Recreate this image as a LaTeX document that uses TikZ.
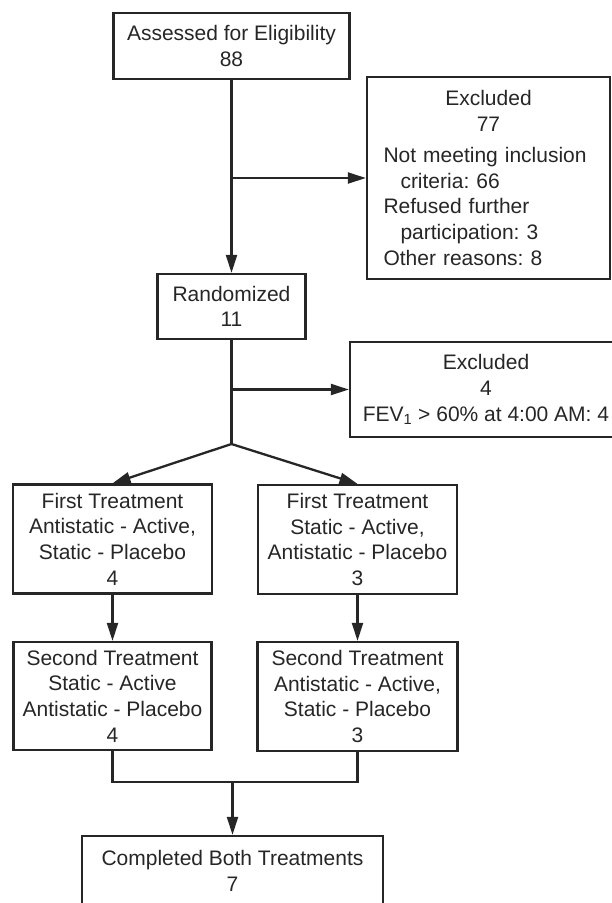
\documentclass[tikz,border=0pt]{standalone}
\usepackage{fontspec}
\setmainfont{Liberation Sans}
\usepackage{tikz}
\usetikzlibrary{arrows.meta, positioning, calc}
\tikzset{
  flowbox/.style={
    rectangle, draw=black!85, line width=2.3pt,
    text centered, align=center, text=black!85,
    font=\fontsize{21}{25.7}\selectfont\frenchspacing,
    inner sep=0pt
  },
  flowarrow/.style={-{Triangle[length=18pt,width=11pt]}, line width=2.3pt, color=black!85},
  flowline/.style={line width=2.3pt, color=black!85},
}

\begin{document}
\begin{tikzpicture}[x=1pt, y=-1pt]
      \useasboundingbox (0,0) rectangle (612,903);
      \node[flowbox, minimum width=236pt, minimum height=66pt](assess) at (231.5,46)
            {Assessed for Eligibility\\88};
      \node[flowbox, minimum width=243pt, minimum height=202pt, align=left,
            text width=210pt](excl1) at (488.5,178)
            {{\centering Excluded\\77\par}\vspace{5pt}\raggedright
             Not meeting inclusion\\\hspace*{17pt}criteria: 66\\Refused further\\
             \hspace*{17pt}participation: 3\\Other reasons: 8};
      \node[flowbox, minimum width=148pt, minimum height=65pt](rand) at (231.5,306.5)
            {Randomized\\11};
      \node[flowbox, minimum width=272pt, minimum height=95pt](excl2) at (486,389.5)
            {Excluded\\4\\FEV\textsubscript{1} > 60\% at 4:00 AM: 4};
      \coordinate (split) at (231.5,444);
      \node[flowbox, minimum width=199pt, minimum height=109pt](first1) at (112.5,539)
            {First Treatment\\Antistatic - Active,\\Static - Placebo\\4};
      \node[flowbox, minimum width=199pt, minimum height=109pt](first2) at (357.5,539.5)
            {First Treatment\\Static - Active,\\Antistatic - Placebo\\3};
      \node[flowbox, minimum width=198pt, minimum height=108pt](second1) at (112.5,696)
            {Second Treatment\\Static - Active\\Antistatic - Placebo\\4};
      \node[flowbox, minimum width=200pt, minimum height=109pt](second2) at (357.5,696.5)
            {Second Treatment\\Antistatic - Active,\\Static - Placebo\\3};
      \coordinate (join) at (232.5,782);
      \node[flowbox, minimum width=301pt, minimum height=70pt](done) at (232.5,871)
            {Completed Both Treatments\\7};
      \draw[flowarrow](assess.south)--(rand.north);
      \draw[flowarrow](assess.south |- excl1.west)--(excl1.west);
      \draw[flowline](rand.south)--(split);
      \draw[flowarrow](rand.south |- excl2.west)--(excl2.west);
      \draw[flowarrow](split)--(first1.north);
      \draw[flowarrow](split)--(first2.north);
      \draw[flowarrow](first1.south)--(second1.north);
      \draw[flowarrow](first2.south)--(second2.north);
      \draw[flowline](second1.south)--(second1.south |- join)--(second2.south |- join)--(second2.south);
      \draw[flowarrow](join)--(done.north);
    \end{tikzpicture}
\end{document}
